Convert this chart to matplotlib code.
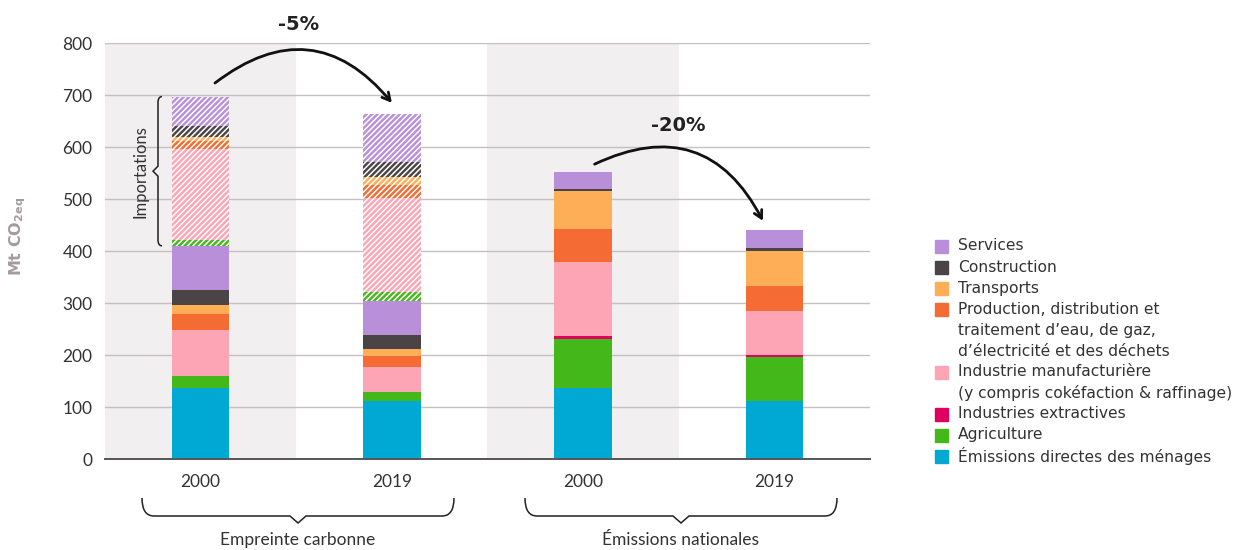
import matplotlib.pyplot as plt
import numpy as np
from matplotlib.path import Path
from matplotlib.patches import PathPatch, Rectangle
from matplotlib.transforms import Affine2D

plt.rcParams['hatch.linewidth'] = 1.1
plt.rcParams['mathtext.fontset'] = 'dejavusans'

# Barres : empreinte 2000, empreinte 2019, émissions nationales 2000, 2019
years = ['2000', '2019', '2000', '2019']
groups = ['Empreinte carbonne', 'Émissions nationales']

# Émissions intérieures par secteur (Mt CO2eq), du bas vers le haut
menages = [137, 111, 137, 111]
agriculture = [23, 18, 94, 85]
extractives = [0, 0, 6, 4]
industrie = [88, 48, 142, 85]
energie = [31, 21, 63, 48]
transports = [17, 13, 73, 67]
construction = [29, 27, 4, 6]
services = [85, 66, 33, 34]

# Émissions importées (empreinte carbone seulement)
agriculture_imp = [12, 17]
extractives_imp = [0, 0]
industrie_imp = [175, 181]
energie_imp = [15, 25]
transports_imp = [7, 15]
construction_imp = [21, 29]
services_imp = [57, 92]

labels = ['Émissions directes des ménages', 'Agriculture', 'Industries extractives',
          'Industrie manufacturière\n(y compris cokéfaction & raffinage)',
          'Production, distribution et\ntraitement d\u2019eau, de gaz,\nd\u2019électricité et des déchets',
          'Transports', 'Construction', 'Services']
colors = ['#00a9d4', '#43b81b', '#e0005f', '#fda5b5', '#f46b33', '#fdae56', '#4b4446', '#b98fda']

domestic = [menages, agriculture, extractives, industrie, energie, transports, construction, services]
imports = [[0, 0], agriculture_imp, extractives_imp, industrie_imp, energie_imp,
           transports_imp, construction_imp, services_imp]

W, H = 1236, 550
fig = plt.figure(figsize=(W / 100, H / 100), dpi=100)
ax = fig.add_axes([105 / W, 91 / H, 765 / W, 416 / H])
pix = Affine2D().scale(1 / W, -1 / H).translate(0, 1) + fig.transFigure

x = np.arange(4)
bw = 0.30
bottom = np.zeros(4)
for vals, c in zip(domestic, colors):
    ax.bar(x, vals, bw, bottom=bottom, color=c, zorder=2, linewidth=0)
    bottom += np.array(vals)
dom_total = bottom.copy()

bottom_imp = dom_total[:2].copy()
for vals, c in zip(imports, colors):
    ax.bar(x[:2], vals, bw, bottom=bottom_imp, facecolor=c, edgecolor='white',
           hatch='//////', linewidth=0, zorder=2)
    bottom_imp += np.array(vals)
totals = np.concatenate([bottom_imp, dom_total[2:]])

# bandes de fond grises
ax.axvspan(-0.5, 0.5, color='#f1eff0', zorder=0, lw=0)
ax.axvspan(1.5, 2.5, color='#f1eff0', zorder=0, lw=0)

ax.set_xlim(-0.5, 3.5)
ax.set_ylim(0, 800)
ax.set_yticks(range(0, 801, 100))
ax.set_xticks(x)
ax.set_xticklabels(years)
ax.grid(axis='y', color='#c8bec0', lw=1)
ax.set_axisbelow(True)
for s in ['top', 'right', 'left']:
    ax.spines[s].set_visible(False)
ax.spines['bottom'].set_color('#555555')
ax.spines['bottom'].set_linewidth(1.4)
ax.tick_params(length=0, labelsize=12.5, labelcolor='#333333')
ax.tick_params(axis='y', pad=9)
ax.tick_params(axis='x', pad=11)
for t in ax.get_xticklabels() + ax.get_yticklabels():
    t.set_family('Lato')

fig.text(18 / W, 1 - 236 / H, r'Mt CO$_\mathbf{2eq}$', rotation=90, ha='center', va='center',
         fontsize=11.5, fontweight='bold', family='DejaVu Sans', color='#a59b9d')

# flèches de variation
def variation(x0, x1, y0, y1, txt, tx, ty):
    ax.annotate('', xy=(x1, y1), xytext=(x0, y0),
                arrowprops=dict(arrowstyle='->,head_length=0.55,head_width=0.3', lw=2,
                                color='#111111', connectionstyle='arc3,rad=-0.48',
                                shrinkA=0, shrinkB=0), annotation_clip=False)
    ax.text(tx, ty, txt, ha='center', va='center', fontsize=14, fontweight='bold',
            color='#222222', clip_on=False)

pct1 = (totals[1] / totals[0] - 1) * 100
pct2 = (totals[3] / totals[2] - 1) * 100
variation(0.075, 1.0, totals[0] + 26, totals[1] + 22, f'{pct1:.0f}%', 0.51, 835)
variation(2.06, 2.94, totals[2] + 15, totals[3] + 18, f'{pct2:.0f}%', 2.5, 642)

# accolades
def brace(p0, length, e, n, d, t, r, w, lw=1.2):
    L = length
    uv = [(0, 0), (0, d), (r, d), (L / 2 - w, d), (L / 2, d + t), (L / 2 + w, d),
          (L - r, d), (L, d), (L, 0)]
    codes = [Path.MOVETO, Path.CURVE3, Path.CURVE3, Path.LINETO, Path.LINETO, Path.LINETO,
             Path.LINETO, Path.CURVE3, Path.CURVE3]
    pts = [(p0[0] + u * e[0] + v * n[0], p0[1] + u * e[1] + v * n[1]) for u, v in uv]
    fig.add_artist(PathPatch(Path(pts, codes), transform=pix, fill=False,
                             lw=lw, edgecolor='#222222'))

for cx, name in zip([298, 681], groups):
    brace((cx - 156, 498), 312, (1, 0), (0, 1), 18, 7, 12, 8, lw=1.1)
    fig.text(cx / W, 1 - 540 / H, name, ha='center', va='center', fontsize=12.5,
             family='Lato', color='#333333')

# accolade des importations (barre 2000 de l'empreinte)
y_top = H - ax.transData.transform((0, totals[0]))[1]
y_bot = H - ax.transData.transform((0, dom_total[0]))[1]
brace((162, y_top), y_bot - y_top, (0, 1), (-1, 0), 4, 5, 6, 5, lw=1.1)
fig.text(140 / W, 1 - (y_top + y_bot) / 2 / H, 'Importations', rotation=90, ha='center',
         va='center', fontsize=12, family='Lato', color='#333333')

# légende
line_h = 21
yy = 246
for lab, c in list(zip(labels, colors))[::-1]:
    fig.add_artist(Rectangle((935, yy + 6.5), 13, -13, transform=pix, color=c))
    for line in lab.split('\n'):
        fig.text(958 / W, 1 - yy / H, line, ha='left', va='center', fontsize=11.2,
                 color='#333333')
        yy += line_h

fig.savefig('out.png', dpi=100)
